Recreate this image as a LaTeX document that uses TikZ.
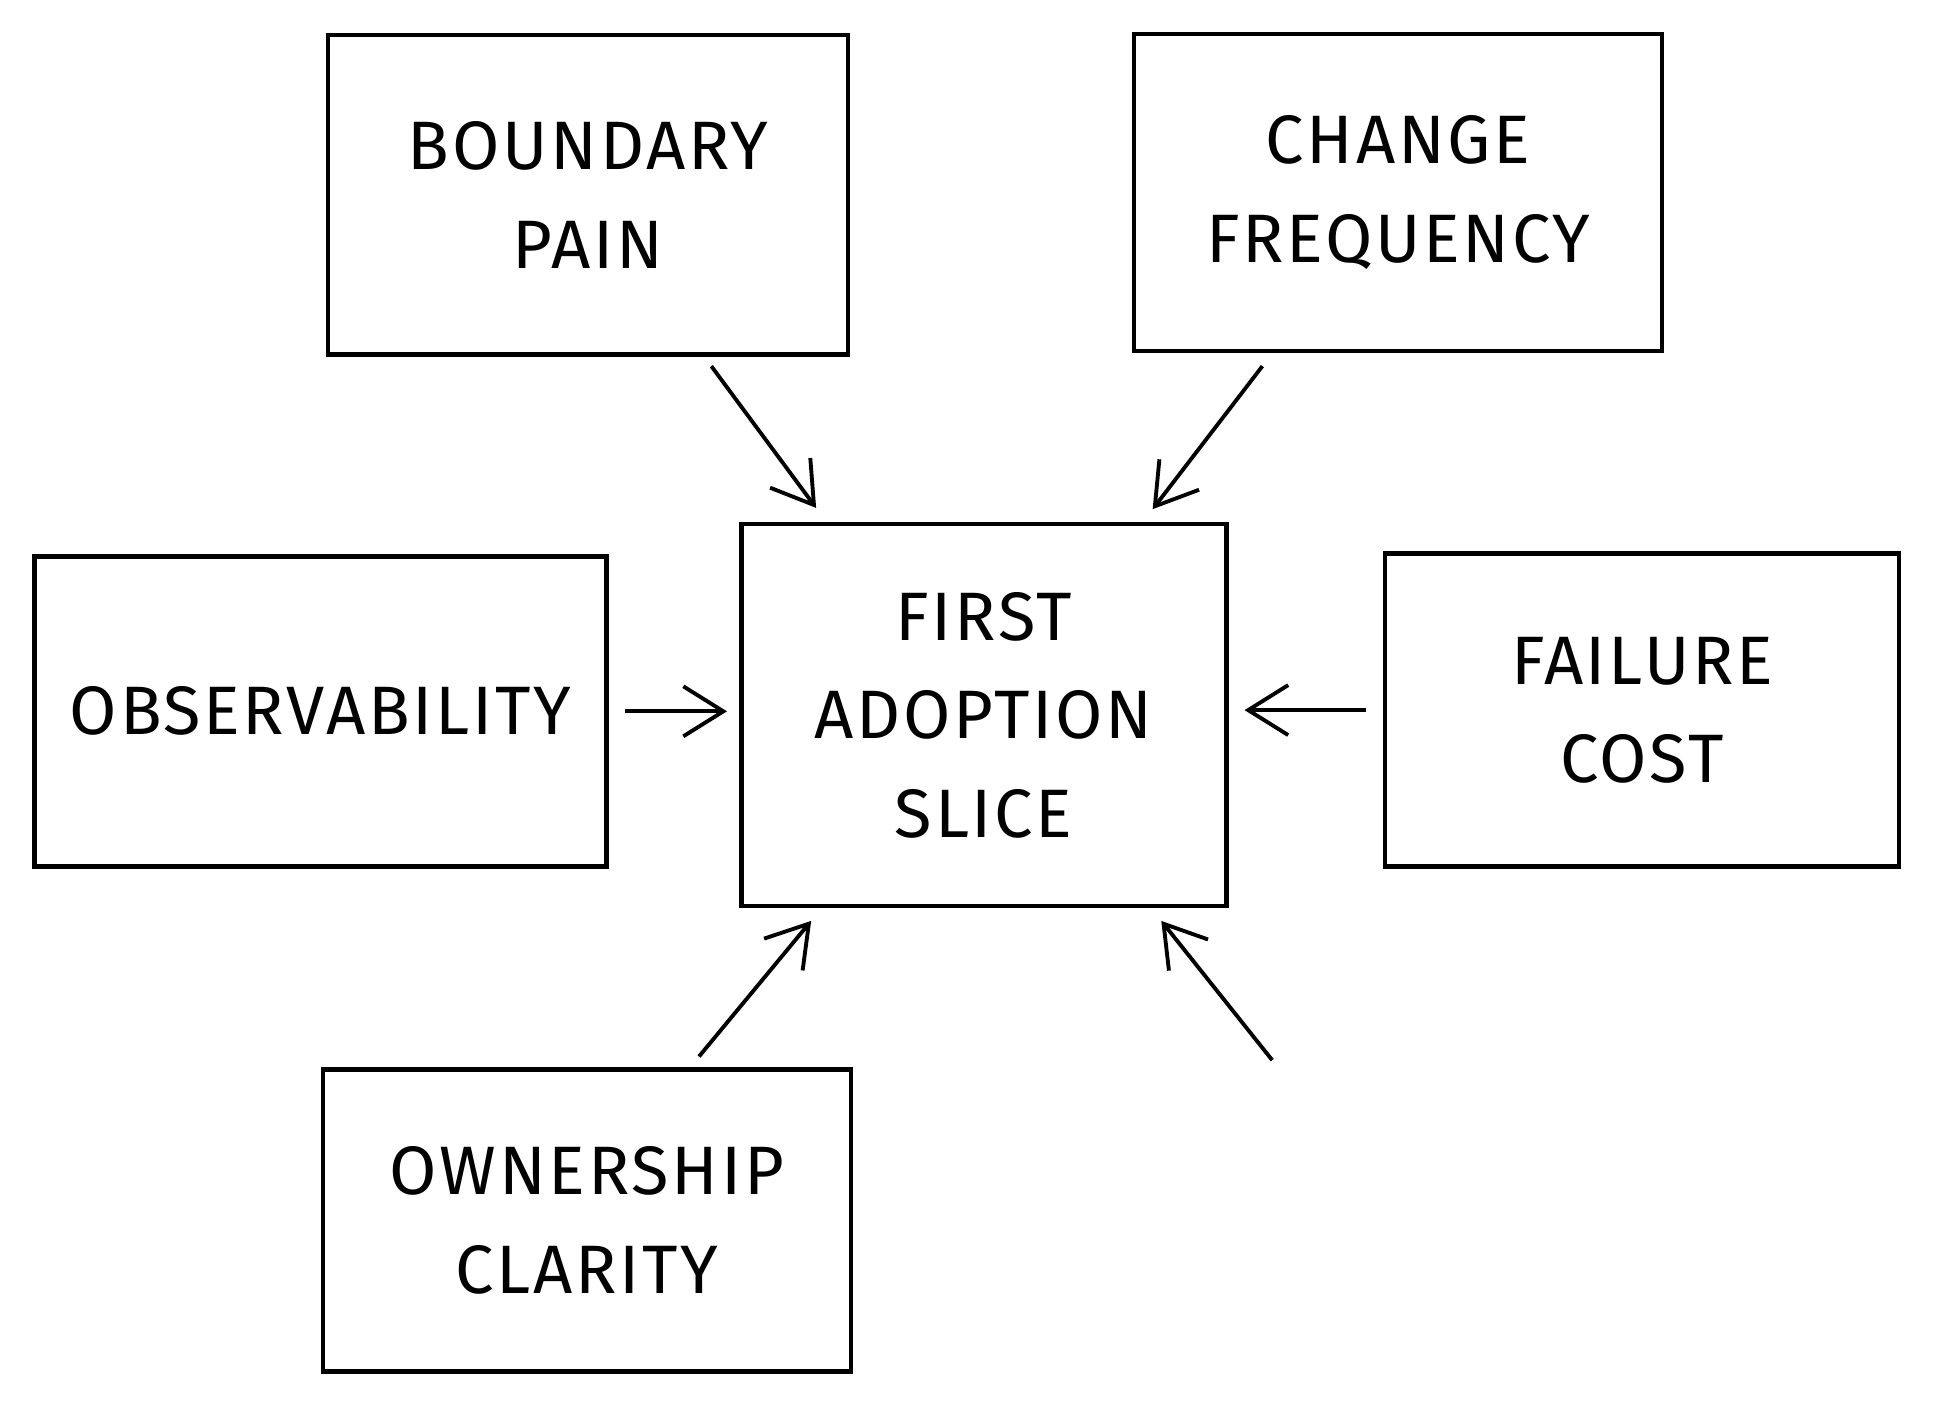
\documentclass[tikz,border=0pt]{standalone}
\usepackage{fontspec}
\setmainfont{Fira Sans}
\usetikzlibrary{arrows.meta}
\begin{document}
\begin{tikzpicture}[x=0.012328cm, y=-0.012328cm,
    factor/.style={draw, line width=1.3pt, align=center, inner sep=0pt,
      font=\fontsize{19.5}{28}\selectfont\addfontfeature{LetterSpace=4}},
    link/.style={-{Straight Barb[length=4mm, width=5mm]}, line width=1.1pt}]

    \useasboundingbox (0,0) rectangle (1568,1142);

    \node[factor, minimum width=5.2cm, minimum height=3.2cm] (pain) at (477,158) {BOUNDARY\\PAIN};
    \node[factor, minimum width=5.28cm, minimum height=3.17cm] (freq) at (1134,156) {CHANGE\\FREQUENCY};
    \node[factor, minimum width=4.85cm, minimum height=3.82cm] (slice) at (798,580) {FIRST\\ADOPTION\\SLICE};
    \node[factor, minimum width=5.72cm, minimum height=3.1cm] (obs) at (260,577) {OBSERVABILITY};
    \node[factor, minimum width=5.14cm, minimum height=3.13cm] (cost) at (1332,576) {FAILURE\\COST};
    \node[factor, minimum width=5.28cm, minimum height=3.02cm] (own) at (476,990) {OWNERSHIP\\CLARITY};

    \coordinate (free) at (1032,860);

    \draw[link] (577,297) -- (662,412);
    \draw[link] (1024,297) -- (935,413);
    \draw[link] ([xshift=0.16cm]obs.east) -- ([xshift=-0.12cm]slice.west |- obs.east);
    \draw[link] ([xshift=-0.17cm]cost.west) -- ([xshift=0.16cm]slice.east |- cost.west);
    \draw[link] (567,857) -- (658,747);
    \draw[link] (free) -- (942,747);

\end{tikzpicture}
\end{document}
